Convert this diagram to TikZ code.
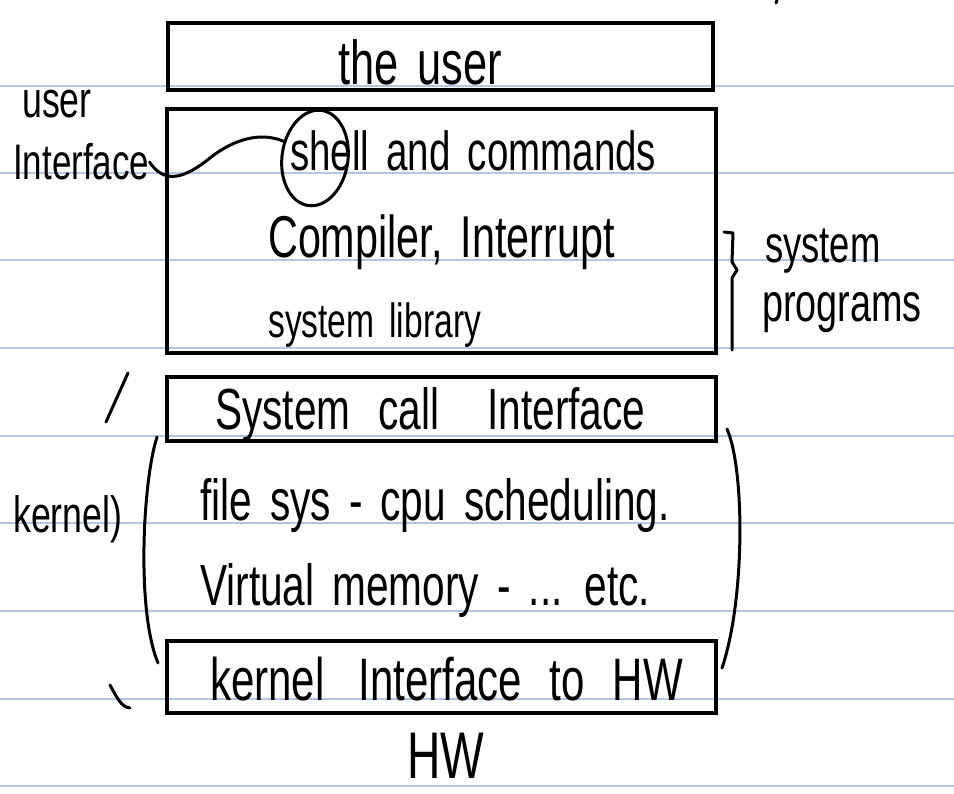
\documentclass[tikz,border=0pt]{standalone}
\usepackage{fontspec}
\setmainfont{Liberation Sans}[FakeStretch=0.7,WordSpace=1.6]
\usetikzlibrary{shapes.geometric,positioning}
\definecolor{ruleblue}{HTML}{B4C7E2}

\tikzset{
  pen/.style={line width=3pt, line cap=round, line join=round},
  layerbox/.style={draw, line width=3.5pt, inner sep=0pt},
  hand/.style={anchor=base west, inner sep=0pt, font=\fontsize{#1}{#1}\selectfont},
  hand/.default=55,
}

\begin{document}
\begin{tikzpicture}[x=1pt,y=-1pt]
  \useasboundingbox (0,0) rectangle (954,794);
  % ruled paper
  \foreach \y in {86,173,260,348,436,523,611,699,786}
    \draw[ruleblue, line width=1.5pt] (0,\y) -- (954,\y);

  % layers
  \node[layerbox, minimum width=545pt, minimum height=67pt] (user) at (440.5,56.5) {};
  \node[layerbox, minimum width=549pt, minimum height=244pt] (progs) at (441.5,231) {};
  \node[layerbox, minimum width=549pt, minimum height=64pt] (sci) at (441.5,409) {};
  \node[layerbox, minimum width=549pt, minimum height=72pt] (khw) at (441.5,677) {};

  % texts in the layers
  \node[hand=62] (tUser) at (338,85) {the user};
  \node[hand=55] (tShell) at (290,171) {shell and commands};
  \node[hand=59] (tComp) at (268,258) {Compiler, Interrupt};
  \node[hand=48] (tLib) at (268,338) {system library};
  \node[hand=58] (tCall) at (215,430) {System\hspace{28pt}call\hspace{48pt}Interface};
  \node[hand=58] (tFs) at (200,520) {file sys - cpu scheduling.};
  \node[hand=58] (tVm) at (200,605) {Virtual memory - ... etc.};
  \node[hand=60] (tKi) at (210,700) {kernel\hspace{34pt}Interface\hspace{28pt}to\hspace{28pt}HW};
  \node[hand=66] (hw) at (407,778) {HW};

  % side notes
  \node[hand=51] (lUser) at (22,118) {user};
  \node[hand=50] (ui) at (13,180) {Interface};
  \node[hand=51] (lKernel) at (13,532) {kernel)};
  \node[hand=52] (lSys) at (765,263) {system};
  \node[hand=54] (lProg) at (762,322) {programs};

  % shell loop and its link
  \node[draw, pen, ellipse, minimum width=66pt, minimum height=96pt, inner sep=0pt, rotate=-8] (shell) at (315,158) {};
  \draw[pen] (ui.east) .. controls (165,185) and (185,178) .. (210,158)
    .. controls (235,138) and (262,132) .. (shell.160);

  % brackets
  \draw[pen] (724,232) -- (733,233) -- (732,262) -- (737,270) -- (732,278) -- (732,350);
  \draw[pen] (157,437) .. controls (143,480) and (136,610) .. (158,663);
  \draw[pen] (727,429) .. controls (745,470) and (745,600) .. (722,668);
  \draw[pen] (128,373) -- (106,422);
  \draw[pen] (110,685) .. controls (118,700) and (122,707) .. (130,708);
  \draw[pen] (777,0) -- (776,3);
\end{tikzpicture}
\end{document}
